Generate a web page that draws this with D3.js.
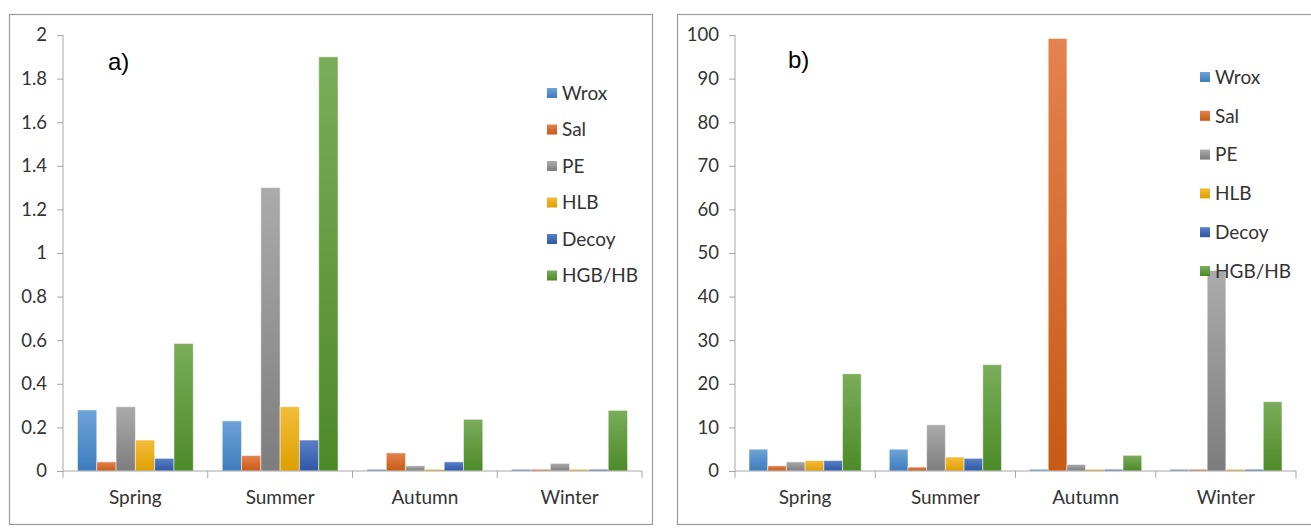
<!DOCTYPE html>
<html>
<head>
<meta charset="utf-8">
<script src="https://cdn.jsdelivr.net/npm/d3@7"></script>
<style>
  html, body { margin: 0; padding: 0; background: #fff; }
  svg { display: block; }
  .tick text { font-family: Lato, "Open Sans", sans-serif; fill: #333; }
</style>
</head>
<body>
<svg id="chart" width="1311" height="529"></svg>
<script>
// Seasons and sampler/fraction series
const seasons = ["Spring", "Summer", "Autumn", "Winter"];
const seriesNames = ["Wrox", "Sal", "PE", "HLB", "Decoy", "HGB/HB"];

// Panel a) values, one array per series (Spring, Summer, Autumn, Winter)
const wroxA  = [0.28, 0.23, 0.008, 0.008];
const salA   = [0.042, 0.071, 0.083, 0.008];
const peA    = [0.295, 1.30, 0.024, 0.035];
const hlbA   = [0.142, 0.295, 0.008, 0.008];
const decoyA = [0.058, 0.142, 0.042, 0.008];
const hgbA   = [0.585, 1.90, 0.237, 0.278];

// Panel b) values
const wroxB  = [5.0, 5.0, 0.4, 0.4];
const salB   = [1.2, 0.9, 99.2, 0.4];
const peB    = [2.1, 10.6, 1.5, 46.0];
const hlbB   = [2.4, 3.2, 0.4, 0.4];
const decoyB = [2.4, 2.9, 0.4, 0.4];
const hgbB   = [22.3, 24.4, 3.6, 15.9];

// Tick values
const ticksA = [0, 0.2, 0.4, 0.6, 0.8, 1, 1.2, 1.4, 1.6, 1.8, 2];
const ticksB = [0, 10, 20, 30, 40, 50, 60, 70, 80, 90, 100];

// Fill gradients: lighter on top, darker at the base
const gradTop    = ["#6da3d8", "#e3834f", "#ababab", "#f4bd3a", "#5a7fc6", "#7aad5a"];
const gradBottom = ["#3d7dbd", "#c75a14", "#7d7d7d", "#dd9f00", "#2f57a7", "#4c8a27"];

const FONT = "Lato, 'Open Sans', sans-serif";

const svg = d3.select("#chart");
const defs = svg.append("defs");
seriesNames.forEach((s, i) => {
  const g = defs.append("linearGradient")
    .attr("id", "grad" + i).attr("x1", 0).attr("y1", 0).attr("x2", 0).attr("y2", 1);
  g.append("stop").attr("offset", "0%").attr("stop-color", gradTop[i]);
  g.append("stop").attr("offset", "100%").attr("stop-color", gradBottom[i]);
});

function drawPanel(cfg) {
  const rows = cfg.series;
  const g = svg.append("g");

  // outer frame
  g.append("rect")
    .attr("x", cfg.frame[0] + 0.5).attr("y", cfg.frame[1] + 0.5)
    .attr("width", cfg.frame[2]).attr("height", cfg.frame[3])
    .attr("fill", "#fff").attr("stroke", "#9a9a9a").attr("stroke-width", 1.2);

  const x0 = d3.scaleBand().domain(seasons).range([cfg.left, cfg.right]).padding(0);
  const x1 = d3.scaleBand().domain(seriesNames).range([0, x0.bandwidth()])
    .paddingInner(0).paddingOuter(0.75);
  const y = d3.scaleLinear().domain(cfg.domain).range([cfg.bottom, cfg.top]);

  // bars
  seasons.forEach((season, si) => {
    g.append("g")
      .attr("transform", `translate(${x0(season)},0)`)
      .selectAll("rect")
      .data(seriesNames.map((s, k) => ({ s, k, v: rows[k][si] })))
      .join("rect")
      .attr("x", d => x1(d.s))
      .attr("y", d => y(d.v))
      .attr("width", x1.bandwidth())
      .attr("height", d => y(0) - y(d.v))
      .attr("fill", d => `url(#grad${d.k})`)
      .attr("stroke", "rgba(255,255,255,0.5)")
      .attr("stroke-width", 1);
  });

  // y axis
  const yAxis = g.append("g")
    .attr("transform", `translate(${cfg.left},0)`)
    .call(d3.axisLeft(y).tickValues(cfg.ticks).tickSize(6).tickPadding(10)
      .tickFormat(d3.format("~g")));
  yAxis.selectAll("line, path").attr("stroke", "#a6a6a6");
  yAxis.select(".domain").attr("d", `M0,${cfg.bottom}V${cfg.top}`);
  yAxis.selectAll("text").style("font-size", "18.5px");

  // x axis with boundary tick marks
  const xAxisG = g.append("g").attr("transform", `translate(0,${cfg.bottom})`);
  xAxisG.append("line")
    .attr("x1", cfg.left).attr("x2", cfg.right)
    .attr("stroke", "#a6a6a6");
  const bounds = seasons.map(s => x0(s)).concat([cfg.right]);
  xAxisG.selectAll("line.bd").data(bounds).join("line").attr("class", "bd")
    .attr("x1", d => d).attr("x2", d => d).attr("y1", 0).attr("y2", 7)
    .attr("stroke", "#a6a6a6");
  xAxisG.selectAll("text").data(seasons).join("text")
    .attr("x", d => x0(d) + x0.bandwidth() / 2)
    .attr("y", 33)
    .attr("text-anchor", "middle")
    .style("font-family", FONT)
    .style("font-size", "19px")
    .attr("fill", "#333")
    .text(d => d);

  // panel letter
  g.append("text")
    .attr("x", cfg.letterPos[0]).attr("y", cfg.letterPos[1])
    .style("font-family", "'Liberation Sans', Arial, sans-serif")
    .style("font-size", "24px")
    .attr("fill", "#000")
    .text(cfg.letter);

  // legend
  const leg = g.append("g")
    .attr("transform", `translate(${cfg.legend[0]},${cfg.legend[1]})`);
  const items = leg.selectAll("g").data(seriesNames).join("g")
    .attr("transform", (d, i) => `translate(0,${i * cfg.legend[2]})`);
  items.append("rect")
    .attr("x", 0).attr("y", -5).attr("width", 10).attr("height", 10)
    .attr("fill", (d, i) => `url(#grad${i})`);
  items.append("text")
    .attr("x", 15).attr("y", 0).attr("dy", "0.36em")
    .style("font-family", FONT)
    .style("font-size", "19px")
    .attr("fill", "#333")
    .text(d => d);
}

drawPanel({
  series: [wroxA, salA, peA, hlbA, decoyA, hgbA],
  domain: [0, 2], ticks: ticksA,
  frame: [9, 14, 643, 510],
  left: 63, right: 642, top: 35, bottom: 471,
  letter: "a)", letterPos: [108, 70],
  legend: [547, 93, 36.5]
});

drawPanel({
  series: [wroxB, salB, peB, hlbB, decoyB, hgbB],
  domain: [0, 100], ticks: ticksB,
  frame: [677, 14, 640, 510],
  left: 735, right: 1296, top: 35, bottom: 471,
  letter: "b)", letterPos: [788, 68],
  legend: [1200, 77, 38.8]
});
</script>
</body>
</html>
